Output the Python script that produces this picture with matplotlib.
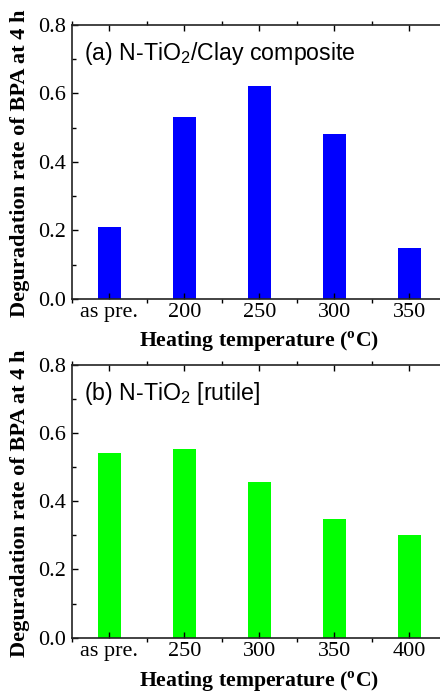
import matplotlib
matplotlib.use("Agg")
import matplotlib.pyplot as plt
from matplotlib.ticker import MultipleLocator, FixedLocator, FormatStrFormatter
import numpy as np

plt.rcParams['font.family'] = ['Liberation Serif', 'DejaVu Serif']
plt.rcParams['mathtext.fontset'] = 'custom'
plt.rcParams['mathtext.rm'] = 'Liberation Serif'
plt.rcParams['mathtext.bf'] = 'Liberation Serif:bold'
plt.rcParams['mathtext.sf'] = 'Liberation Sans'

cats_a = ['as pre.', '200', '250', '300', '350']
vals_a = [0.21, 0.53, 0.62, 0.48, 0.15]
cats_b = ['as pre.', '250', '300', '350', '400']
vals_b = [0.54, 0.553, 0.457, 0.347, 0.30]

titles = [r'(a) N-TiO$_\mathsf{2}$/Clay composite', r'(b) N-TiO$_\mathsf{2}$ [rutile]']
colors = ['#0000FF', '#00FF00']
ylabel = 'Deguradation rate of BPA at 4 h'
xlabel = r'Heating temperature ($^\mathbf{o}$C)'

fig = plt.figure(figsize=(4.4, 6.92), dpi=100)
positions = [[0.1636, 0.5679, 0.852, 0.3964], [0.1636, 0.0785, 0.852, 0.3945]]
xlab_y = [-0.157, -0.162]

ylabels = []
for pos, cats, vals, title, col, xly in zip(positions, [cats_a, cats_b], [vals_a, vals_b], titles, colors, xlab_y):
    ax = fig.add_axes(pos)
    x = np.arange(len(cats)) + 0.5
    ax.bar(x, vals, width=0.31, color=col, edgecolor='none', zorder=1)
    ax.set_xlim(0, 5)
    ax.set_ylim(0, 0.8)
    ax.set_xticks(x)
    ax.set_xticklabels(cats)
    ax.xaxis.set_minor_locator(FixedLocator(np.arange(0, 6)))
    ax.yaxis.set_major_locator(MultipleLocator(0.2))
    ax.yaxis.set_minor_locator(MultipleLocator(0.1))
    ax.yaxis.set_major_formatter(FormatStrFormatter('%.1f'))
    ax.tick_params(axis='both', which='major', labelsize=16, direction='in', length=4, width=1, top=True)
    ax.tick_params(axis='both', which='minor', direction='in', length=3, width=1, top=True)
    ax.tick_params(axis='x', which='minor', direction='out', length=3)
    ax.tick_params(axis='y', which='major', pad=4)
    ax.tick_params(axis='x', which='major', pad=3)
    for s in ax.spines.values():
        s.set_linewidth(1.2)
        s.set_color('#222222')
    yl = ax.set_ylabel(ylabel, fontsize=15, fontweight='bold', va='center')
    ax.yaxis.set_label_coords(-0.139, 0.494)
    ax.set_xlabel(xlabel, fontsize=15.7, fontweight='bold', va='center')
    ax.xaxis.set_label_coords(0.5, xly)
    ax.text(0.032, 0.945, title, transform=ax.transAxes, fontsize=16.7,
            family='Liberation Sans', va='top', ha='left')
    ylabels.append(yl)

# scale the y label so its length matches the reference (~307 px)
fig.canvas.draw()
r = fig.canvas.get_renderer()
for yl in ylabels:
    h = yl.get_window_extent(r).height
    yl.set_fontsize(15 * 307.0 / h)

fig.savefig('out.png', dpi=100)
